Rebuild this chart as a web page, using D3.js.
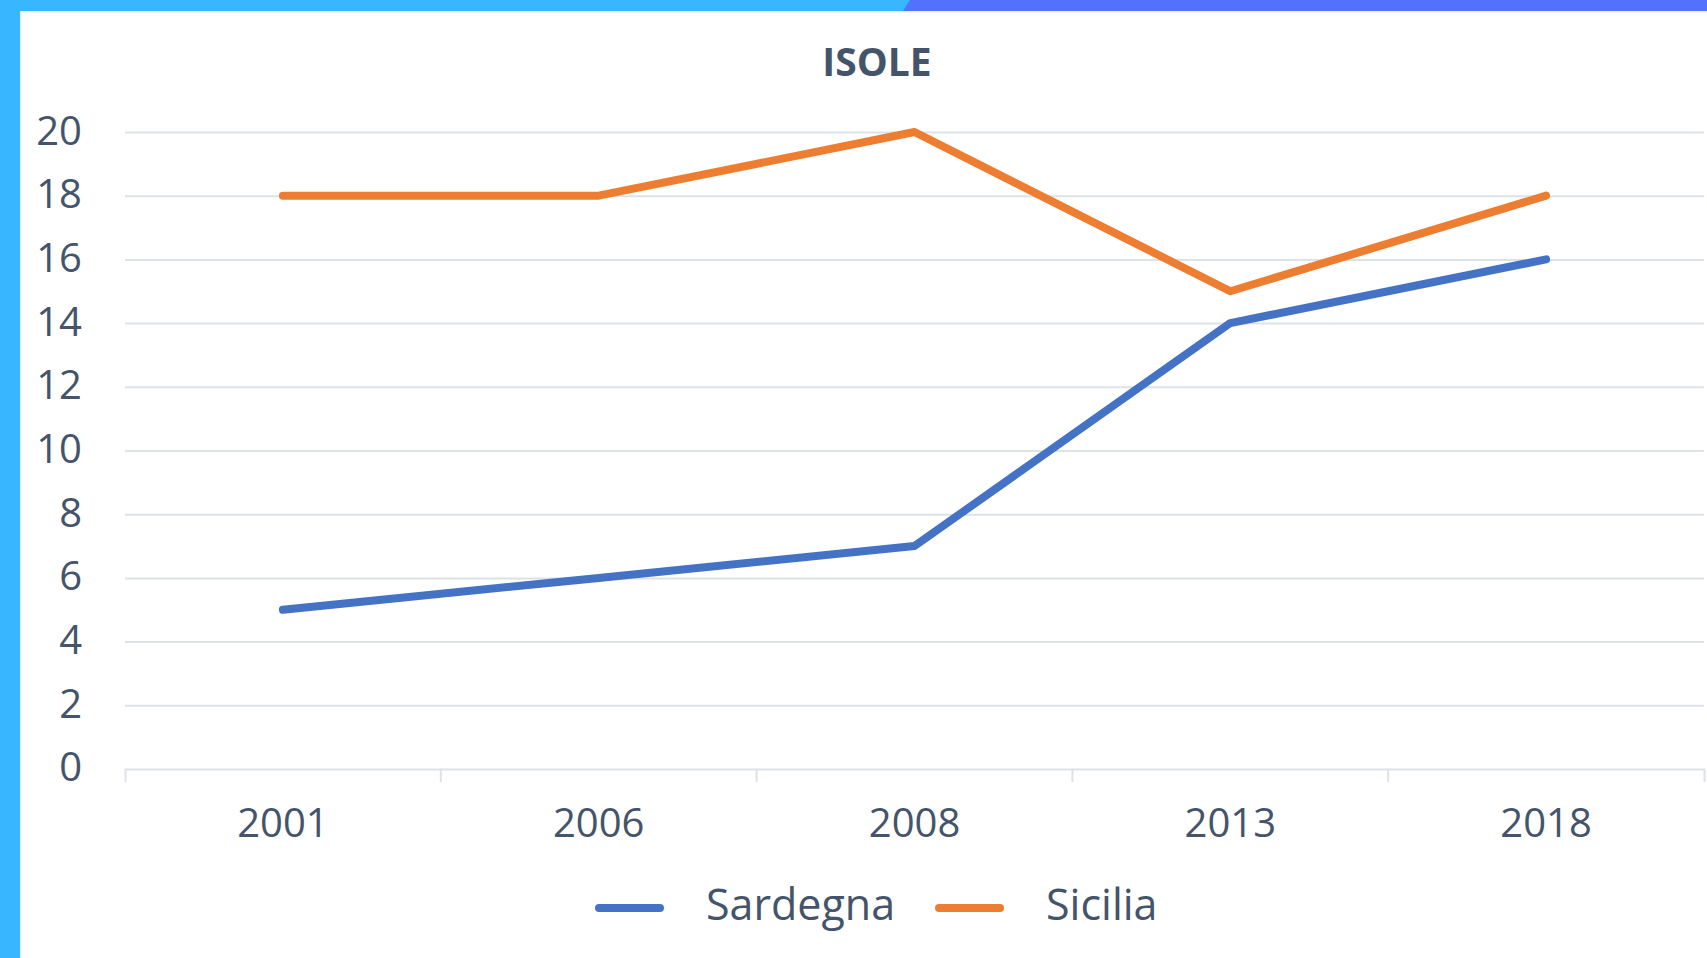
<!DOCTYPE html>
<html>
<head>
<meta charset="utf-8">
<script src="https://cdn.jsdelivr.net/npm/d3@7"></script>
<style>
  body { margin: 0; background: #fff; }
  svg { display: block; }
  text { font-family: "Open Sans", "Noto Sans", sans-serif; fill: #44546a; }
</style>
</head>
<body>
<svg id="chart" width="1707" height="958"></svg>
<script>
// data
var years = ['2001', '2006', '2008', '2013', '2018'];
var sardegna = [5, 6, 7, 14, 16];
var sicilia = [18, 18, 20, 15, 18];
var yTicks = [0, 2, 4, 6, 8, 10, 12, 14, 16, 18, 20];
var seriesNames = ['Sardegna', 'Sicilia'];
var seriesColors = ['#4472c4', '#ed7d31'];

var svg = d3.select('#chart');

// slide frame: blue bars on left and top
svg.append('rect').attr('x', 0).attr('y', 0).attr('width', 1707).attr('height', 958).attr('fill', '#fff');
svg.append('rect').attr('x', 20).attr('y', 11).attr('width', 1700).attr('height', 960)
    .attr('fill', '#fff').attr('stroke', '#e8ebf0').attr('stroke-width', 3);
svg.append('rect').attr('x', 0).attr('y', 0).attr('width', 20).attr('height', 958).attr('fill', '#38b6ff');
svg.append('rect').attr('x', 0).attr('y', 0).attr('width', 1707).attr('height', 11).attr('fill', '#38b6ff');
svg.append('polygon').attr('points', '910,0 1707,0 1707,11 903,11').attr('fill', '#5271ff');

var margin = { top: 132, right: 3, bottom: 189, left: 125 },
    width = 1707 - margin.left - margin.right,
    height = 958 - margin.top - margin.bottom;

var g = svg.append('g').attr('transform', 'translate(' + margin.left + ',' + margin.top + ')');

var x = d3.scaleBand().domain(years).range([0, width]);
var y = d3.scaleLinear().domain([0, 20]).range([height, 0]);

// title
svg.append('text')
    .attr('x', 877)
    .attr('y', 76)
    .attr('text-anchor', 'middle')
    .style('font-size', '39px')
    .style('font-weight', 'bold')
    .text('ISOLE');

// y axis with gridlines
var yAxis = g.append('g')
    .call(d3.axisLeft(y).tickValues(yTicks.slice(1)).tickSize(-width).tickPadding(43));
yAxis.select('.domain').remove();
yAxis.selectAll('.tick line').attr('stroke', '#dde1e8').attr('stroke-width', 2);
yAxis.selectAll('text').style('font-size', '40px').attr('fill', '#44546a').attr('dy', '0.3em');

// zero label separately (no gridline, the x axis sits there)
g.append('text')
    .attr('x', -43)
    .attr('y', y(0))
    .attr('dy', '0.3em')
    .attr('text-anchor', 'end')
    .style('font-size', '40px')
    .text(yTicks[0]);

// x axis
var xAxis = g.append('g')
    .attr('transform', 'translate(0,' + height + ')')
    .call(d3.axisBottom(x).tickSizeInner(0).tickSizeOuter(13).tickPadding(40));
xAxis.select('.domain').attr('stroke', '#dde1e8').attr('stroke-width', 2);
xAxis.selectAll('text').style('font-size', '40px').attr('fill', '#44546a');

// category boundary ticks
g.append('g')
    .selectAll('line')
    .data(years.slice(1))
    .enter()
    .append('line')
    .attr('x1', d => x(d))
    .attr('x2', d => x(d))
    .attr('y1', height)
    .attr('y2', height + 13)
    .attr('stroke', '#dde1e8')
    .attr('stroke-width', 2);

// lines
var line = d3.line()
    .x((d, i) => x(years[i]) + x.bandwidth() / 2)
    .y(d => y(d));

[sardegna, sicilia].forEach(function(values, i) {
    g.append('path')
        .datum(values)
        .attr('fill', 'none')
        .attr('stroke', seriesColors[i])
        .attr('stroke-width', 8)
        .attr('stroke-linecap', 'round')
        .attr('stroke-linejoin', 'round')
        .attr('d', line);
});

// legend
var legendX = [599, 939];
var legend = svg.append('g')
    .selectAll('g')
    .data(seriesNames)
    .enter()
    .append('g')
    .attr('transform', (d, i) => 'translate(' + legendX[i] + ',908)');

legend.append('line')
    .attr('x1', 0)
    .attr('x2', 61)
    .attr('stroke', (d, i) => seriesColors[i])
    .attr('stroke-width', 8)
    .attr('stroke-linecap', 'round');

legend.append('text')
    .attr('x', 107)
    .attr('y', 12)
    .style('font-size', '43px')
    .text(d => d);
</script>
</body>
</html>
